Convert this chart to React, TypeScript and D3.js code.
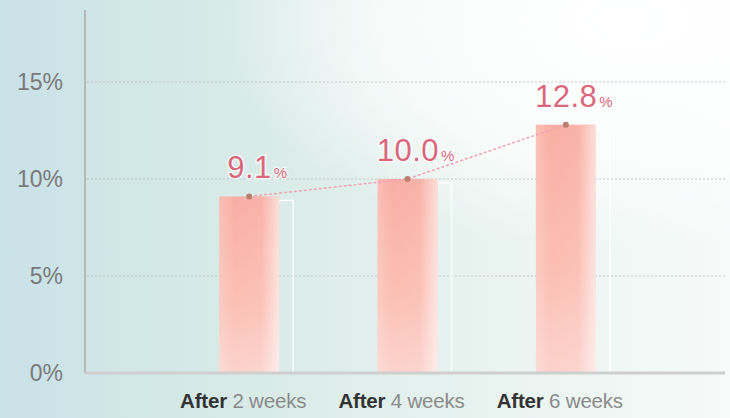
import React from "react";
import * as d3 from "d3";

const categories = ["2 weeks", "4 weeks", "6 weeks"];
const values = [9.1, 10.0, 12.8];
const yTicks = [0, 5, 10, 15];

const W = 730;
const H = 418;

export default function App() {
  const x = d3.scalePoint<string>().domain(categories).range([170, 645]).padding(0.5);
  const y = d3.scaleLinear().domain([0, 15]).range([373, 82]);
  const barW = 60;
  const axisX = 85;
  const line = d3
    .line<number>()
    .x((_, i) => x(categories[i]) as number)
    .y((d) => y(d));

  return (
    <svg
      width={W}
      height={H}
      style={{ position: "absolute", left: 0, top: 0 }}
      fontFamily="'Liberation Sans', Arial, sans-serif"
    >
      <defs>
        <linearGradient id="bg" x1="0" y1="0" x2="1" y2="0">
          <stop offset="0" stopColor="#c9e2e8" />
          <stop offset="0.35" stopColor="#d9ebe7" />
          <stop offset="0.7" stopColor="#eaf4f1" />
          <stop offset="1" stopColor="#f6faf9" />
        </linearGradient>
        <radialGradient id="glow" cx="0.85" cy="0.05" r="0.55">
          <stop offset="0" stopColor="#ffffff" stopOpacity="1" />
          <stop offset="0.6" stopColor="#ffffff" stopOpacity="0.7" />
          <stop offset="1" stopColor="#ffffff" stopOpacity="0" />
        </radialGradient>
        <linearGradient id="barV" x1="0" y1="0" x2="0" y2="1">
          <stop offset="0" stopColor="#f9aea3" />
          <stop offset="0.6" stopColor="#fbbfb4" />
          <stop offset="1" stopColor="#fbd3cc" />
        </linearGradient>
        <linearGradient id="barH" x1="0" y1="0" x2="1" y2="0">
          <stop offset="0" stopColor="#ffffff" stopOpacity="0.2" />
          <stop offset="0.25" stopColor="#ffffff" stopOpacity="0" />
          <stop offset="0.7" stopColor="#ffffff" stopOpacity="0.05" />
          <stop offset="1" stopColor="#ffffff" stopOpacity="0.6" />
        </linearGradient>
      </defs>
      <rect x={0} y={0} width={W} height={H} fill="url(#bg)" />
      <rect x={0} y={0} width={W} height={H} fill="url(#glow)" />

      {/* gridlines */}
      {yTicks
        .filter((t) => t > 0)
        .map((t) => (
          <line
            key={t}
            x1={axisX + 2}
            x2={W - 4}
            y1={y(t)}
            y2={y(t)}
            stroke="#bdbdbd"
            strokeWidth={1.2}
            strokeDasharray="2 2"
            opacity={0.8}
          />
        ))}

      {/* y tick labels */}
      {yTicks.map((t) => (
        <text
          key={t}
          x={63}
          y={y(t)}
          dy="0.36em"
          textAnchor="end"
          fontSize={23}
          fill="#7a7a7a"
          letterSpacing={0}
        >
          {t}%
        </text>
      ))}

      {/* bars */}
      {values.map((v, i) => {
        const cx = x(categories[i]) as number;
        const top = y(v);
        return (
          <g key={i}>
            <rect
              x={cx - barW / 2 + 4}
              y={top + 4}
              width={barW + 10}
              height={y(0) - top - 4}
              fill="none"
              stroke="#ffffff"
              strokeWidth={1.5}
              opacity={0.9}
            />
            <rect x={cx - barW / 2} y={top} width={barW} height={y(0) - top} fill="url(#barV)" />
            <rect x={cx - barW / 2} y={top} width={barW} height={y(0) - top} fill="url(#barH)" />
          </g>
        );
      })}

      {/* axes */}
      <line x1={axisX} x2={axisX} y1={10} y2={y(0)} stroke="#b8b8b8" strokeWidth={2} />
      <line x1={axisX} x2={W - 5} y1={y(0)} y2={y(0)} stroke="#cfcfcf" strokeWidth={3} />

      {/* trend line */}
      <path
        d={line(values) || ""}
        fill="none"
        stroke="#f2a3b3"
        strokeWidth={1.5}
        strokeDasharray="3 2"
      />
      {values.map((v, i) => (
        <circle key={i} cx={x(categories[i]) as number} cy={y(v)} r={3} fill="#b9826e" />
      ))}

      {/* value labels */}
      {values.map((v, i) => {
        const cx = x(categories[i]) as number;
        return (
          <text
            key={i}
            x={cx + 8}
            y={y(v) - 18}
            textAnchor="middle"
            fill="#d9687c"
            stroke="#ffffff"
            strokeWidth={3}
            strokeOpacity={0.7}
            paintOrder="stroke"
          >
            <tspan fontSize={31} letterSpacing={0.5}>{v.toFixed(1)}</tspan>
            <tspan fontSize={15} dx={2}>%</tspan>
          </text>
        );
      })}

      {/* category labels */}
      {categories.map((c) => (
        <text
          key={c}
          x={(x(c) as number) - 6}
          y={408}
          textAnchor="middle"
          fontSize={20.5}
          letterSpacing={-0.2}
        >
          <tspan fontWeight="bold" fill="#333333">After</tspan>
          <tspan fill="#8a8a8a"> {c}</tspan>
        </text>
      ))}
    </svg>
  );
}
